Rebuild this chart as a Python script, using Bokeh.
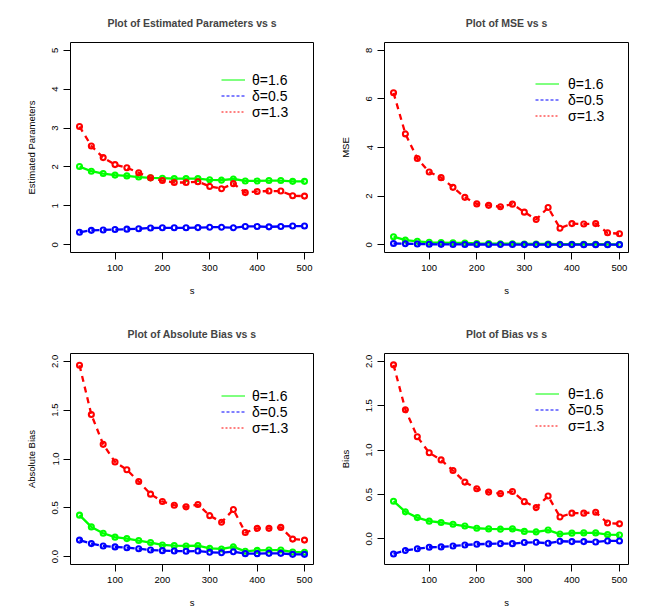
import math
from bokeh.plotting import figure
from bokeh.models import (Range1d, FixedTicker, PrintfTickFormatter, Legend, LegendItem,
                          ColumnDataSource)
from bokeh.layouts import column, row
from bokeh.embed import file_html
from bokeh.resources import INLINE

FONT = "Liberation Sans"

s = [25, 50, 75, 100, 125, 150, 175, 200, 225, 250, 275, 300, 325, 350, 375, 400, 425, 450, 475, 500]

# Estimated parameters
est_theta = [2.01, 1.89, 1.83, 1.79, 1.77, 1.74, 1.72, 1.71, 1.70, 1.70, 1.70, 1.67, 1.66, 1.69, 1.64, 1.64, 1.65, 1.65, 1.63, 1.63]
est_delta = [0.32, 0.37, 0.38, 0.39, 0.40, 0.41, 0.43, 0.435, 0.435, 0.435, 0.44, 0.45, 0.45, 0.435, 0.47, 0.47, 0.46, 0.47, 0.48, 0.48]
est_sigma = [3.04, 2.54, 2.24, 2.06, 1.98, 1.85, 1.72, 1.65, 1.60, 1.60, 1.62, 1.50, 1.44, 1.57, 1.34, 1.37, 1.38, 1.38, 1.26, 1.25]

# MSE
mse_theta = [0.33, 0.19, 0.14, 0.10, 0.09, 0.08, 0.07, 0.05, 0.045, 0.04, 0.04, 0.03, 0.03, 0.03, 0.02, 0.02, 0.02, 0.02, 0.015, 0.01]
mse_delta = [0.05, 0.04, 0.03, 0.02, 0.015, 0.012, 0.01, 0.009, 0.008, 0.008, 0.007, 0.006, 0.006, 0.006, 0.005, 0.005, 0.004, 0.004, 0.003, 0.003]
mse_sigma = [6.25, 4.56, 3.55, 2.99, 2.76, 2.36, 1.95, 1.68, 1.62, 1.56, 1.67, 1.34, 1.04, 1.53, 0.68, 0.87, 0.85, 0.87, 0.49, 0.45]

# Absolute bias
ab_theta = [0.425, 0.305, 0.24, 0.20, 0.185, 0.165, 0.145, 0.12, 0.113, 0.11, 0.113, 0.085, 0.079, 0.10, 0.055, 0.065, 0.068, 0.068, 0.048, 0.045]
ab_delta = [0.17, 0.134, 0.11, 0.10, 0.092, 0.082, 0.068, 0.062, 0.058, 0.055, 0.058, 0.045, 0.041, 0.051, 0.031, 0.031, 0.034, 0.034, 0.024, 0.024]
ab_sigma = [1.96, 1.455, 1.15, 0.97, 0.89, 0.77, 0.64, 0.565, 0.527, 0.51, 0.534, 0.42, 0.353, 0.483, 0.247, 0.29, 0.29, 0.30, 0.18, 0.17]

# Bias
b_theta = [0.425, 0.305, 0.24, 0.20, 0.185, 0.165, 0.145, 0.12, 0.113, 0.11, 0.113, 0.085, 0.079, 0.10, 0.055, 0.065, 0.068, 0.068, 0.048, 0.045]
b_delta = [-0.169, -0.13, -0.11, -0.094, -0.09, -0.079, -0.068, -0.06, -0.056, -0.053, -0.053, -0.041, -0.038, -0.049, -0.026, -0.03, -0.03, -0.034, -0.023, -0.023]
b_sigma = [1.96, 1.455, 1.15, 0.97, 0.89, 0.77, 0.64, 0.565, 0.527, 0.51, 0.534, 0.42, 0.353, 0.483, 0.247, 0.29, 0.29, 0.30, 0.18, 0.17]

legend_labels = ["\u03b8=1.6", "\u03b4=0.5", "\u03c3=1.3"]
x_ticks = [100, 200, 300, 400, 500]

GREEN = "#00ff00"
BLUE = "#0000ff"
RED = "#ff0000"


def make_panel(title, ylabel, th, de, si, ylim, yticks, yfmt, left_col, top_row, row1_center, standoff):
    mbl = 70 if left_col else 62
    mbr = 9 if left_col else 8
    fw = 243 if left_col else 244
    fh = 210 if top_row else 211
    mbt = 42
    mbb = 59 if top_row else 50
    p = figure(frame_width=fw, frame_height=fh,
               min_border_left=mbl, min_border_right=mbr, min_border_top=mbt, min_border_bottom=mbb,
               x_range=Range1d(6, 519), y_range=Range1d(*ylim),
               output_backend="svg", toolbar_location=None, title=title)
    p.title.align = "center"
    p.title.text_font = FONT
    p.title.text_font_size = "10.5px"
    p.title.text_font_style = "bold"
    p.title.standoff = 27
    p.outline_line_color = "black"
    p.outline_line_width = 1
    p.outline_line_alpha = 1
    p.grid.visible = False
    p.background_fill_color = "white"
    p.border_fill_color = "white"

    for ax in (p.xaxis[0], p.yaxis[0]):
        ax.axis_line_color = None
        ax.major_tick_out = 7
        ax.major_tick_in = 0
        ax.minor_tick_line_color = None
        ax.major_tick_line_color = "black"
        ax.major_label_text_font = FONT
        ax.major_label_text_font_size = "9.5px"
        ax.major_label_text_color = "black"
        ax.axis_label_text_font = FONT
        ax.axis_label_text_font_size = "9.5px"
        ax.axis_label_text_font_style = "normal"
        ax.axis_label_text_color = "black"
    p.xaxis.ticker = FixedTicker(ticks=x_ticks)
    p.xaxis.axis_label = "s"
    p.xaxis.major_label_standoff = 5
    p.xaxis.axis_label_standoff = 11
    p.yaxis.ticker = FixedTicker(ticks=yticks)
    p.yaxis.formatter = PrintfTickFormatter(format=yfmt)
    p.yaxis.major_label_orientation = "vertical"
    p.yaxis.axis_label = ylabel
    p.yaxis.major_label_standoff = 5
    p.yaxis.axis_label_standoff = 13

    series = [(th, GREEN, None), (de, BLUE, "8 4"), (si, RED, "6 5")]
    for ys, c, dash in series:
        kw = {}
        if dash:
            kw["line_dash"] = dash
        p.line(s, ys, line_color=c, line_width=2.3, **kw)
        p.scatter(s, ys, marker="circle", size=5.0, fill_color=None, line_color=c, line_width=2.1)

    # legend glyph renderers (NaN data: nothing drawn in the plot, only their style in the legend)
    nan_src = ColumnDataSource(data=dict(x=[s[0], s[1]], y=[math.nan, math.nan]))
    lg = p.line("x", "y", source=nan_src, line_color=GREEN, line_width=1.0)
    lb = p.line("x", "y", source=nan_src, line_color=BLUE, line_width=1.0, line_dash="3 2")
    lr = p.line("x", "y", source=nan_src, line_color=RED, line_width=1.0, line_dash="2 2")
    items = [LegendItem(label=legend_labels[0], renderers=[lg]),
             LegendItem(label=legend_labels[1], renderers=[lb]),
             LegendItem(label=legend_labels[2], renderers=[lr])]
    top = row1_center - 8.5
    leg = Legend(items=items, location=(151, fh - top - 47),
                 padding=0, margin=0, spacing=-2, glyph_width=24, glyph_height=15,
                 label_height=15, label_standoff=standoff, border_line_color=None,
                 background_fill_alpha=0, label_text_font=FONT, label_text_font_size="14px",
                 label_text_color="black")
    p.add_layout(leg)
    return p


p1 = make_panel("Plot of Estimated Parameters vs s", "Estimated Parameters",
                est_theta, est_delta, est_sigma, (-0.2, 5.2), [0, 1, 2, 3, 4, 5], "%d", True, True, 39, 7)
p2 = make_panel("Plot of MSE vs s", "MSE",
                mse_theta, mse_delta, mse_sigma, (-0.32, 8.32), [0, 2, 4, 6, 8], "%d", False, True, 43, 9)
p3 = make_panel("Plot of Absolute Bias vs s", "Absolute Bias",
                ab_theta, ab_delta, ab_sigma, (-0.08, 2.08), [0, 0.5, 1.0, 1.5, 2.0], "%.1f", True, False, 44, 7)
p4 = make_panel("Plot of Bias vs s", "Bias",
                b_theta, b_delta, b_sigma, (-0.288, 2.088), [0, 0.5, 1.0, 1.5, 2.0], "%.1f", False, False, 42, 9)

layout = column(row(p1, p2), row(p3, p4))
open("out.html", "w").write(file_html(layout, INLINE))
